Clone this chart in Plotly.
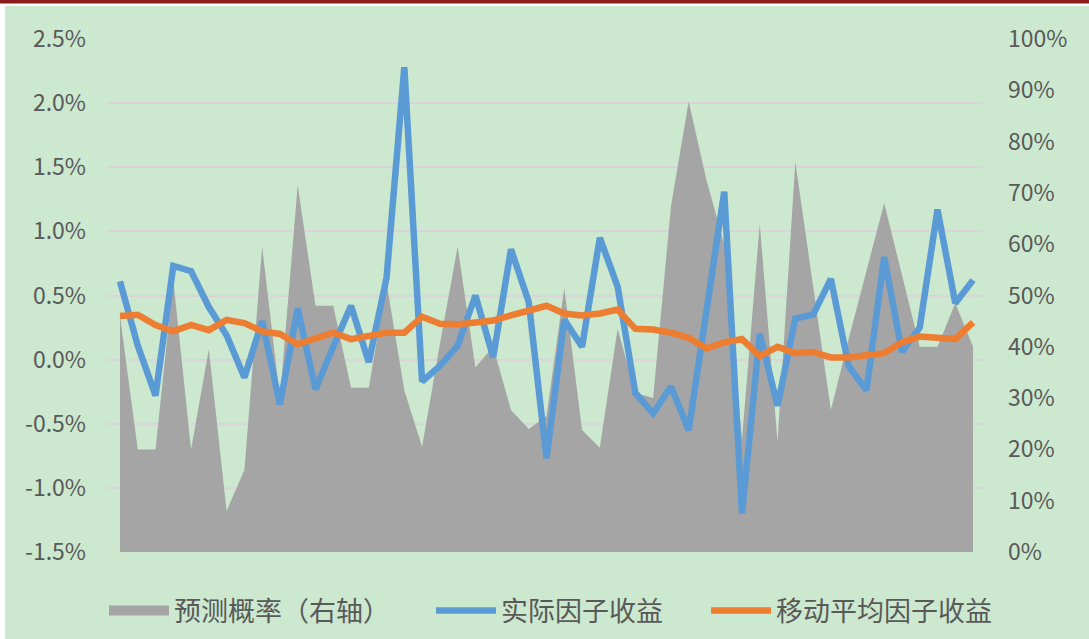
import plotly.graph_objects as go

# ---- data ----
periods = list(range(49))

prob_pct = [46, 20, 20, 53, 20, 39.5, 8, 16, 59.5, 30,
            71.5, 48, 48, 32, 32, 52.5, 31.5, 20.5, 40.5, 59.5,
            36, 40, 27.7, 24, 26.5, 51.4, 23.8, 20.3, 43.5, 31,
            30, 67.3, 87.8, 72.5, 60, 22, 64, 21.5, 76, 51.7,
            27.7, 41.5, 55, 68, 54, 40, 40, 48.5, 40]

actual_ret = [0.61, 0.11, -0.28, 0.73, 0.69, 0.41, 0.19, -0.14, 0.30, -0.35,
              0.40, -0.23, 0.10, 0.42, -0.02, 0.64, 2.28, -0.17, -0.05, 0.11,
              0.50, 0.02, 0.86, 0.45, -0.77, 0.31, 0.10, 0.95, 0.57, -0.26,
              -0.42, -0.21, -0.55, 0.37, 1.31, -1.20, 0.20, -0.36, 0.32, 0.35,
              0.63, -0.05, -0.24, 0.80, 0.06, 0.25, 1.17, 0.44, 0.62]

ma_ret = [0.34, 0.35, 0.27, 0.22, 0.27, 0.23, 0.31, 0.285, 0.22, 0.20,
          0.12, 0.16, 0.21, 0.16, 0.19, 0.21, 0.21, 0.335, 0.28, 0.275,
          0.29, 0.305, 0.345, 0.385, 0.42, 0.36, 0.345, 0.36, 0.39, 0.24,
          0.235, 0.21, 0.17, 0.088, 0.135, 0.16, 0.028, 0.10, 0.05, 0.06,
          0.017, 0.017, 0.035, 0.05, 0.135, 0.18, 0.17, 0.16, 0.29]

left_tick_vals = [-1.5, -1.0, -0.5, 0.0, 0.5, 1.0, 1.5, 2.0, 2.5]
left_tick_text = ["-1.5%", "-1.0%", "-0.5%", "0.0%", "0.5%", "1.0%", "1.5%", "2.0%", "2.5%"]
right_tick_vals = [0, 10, 20, 30, 40, 50, 60, 70, 80, 90, 100]
right_tick_text = ["0%", "10%", "20%", "30%", "40%", "50%", "60%", "70%", "80%", "90%", "100%"]

names = ["预测概率（右轴）", "实际因子收益", "移动平均因子收益"]

# ---- figure ----
W, H = 1089, 639
L, R, T, B = 107, 106, 39, 87
pw, ph = W - L - R, H - T - B

def px(xp):
    return (xp - L) / pw

def py(yp):
    return (H - B - yp) / ph

BG = "#CCE8CF"
TXT = "#595959"
FONT = "Noto Sans CJK SC"
GRAY = "#A5A5A5"

fig = go.Figure()
# area (right axis)
fig.add_trace(go.Scatter(
    x=periods, y=prob_pct, name=names[0], yaxis="y", legend="legend",
    mode="lines", line=dict(width=0, color=GRAY),
    fill="tozeroy", fillcolor=GRAY, showlegend=False, legendgroup="prob"))
# legend key for the area (solid block, like the reference)
fig.add_trace(go.Scatter(
    x=[None], y=[None], name=names[0], yaxis="y", legend="legend",
    mode="lines", line=dict(width=15, color=GRAY), legendgroup="prob",
    hoverinfo="skip"))
fig.add_trace(go.Scatter(
    x=periods, y=actual_ret, name=names[1], yaxis="y2", legend="legend2",
    mode="lines", line=dict(width=6.5, color="#5B9BD5")))
fig.add_trace(go.Scatter(
    x=periods, y=ma_ret, name=names[2], yaxis="y2", legend="legend3",
    mode="lines", line=dict(width=6.5, color="#ED7D31")))

legend_style = dict(orientation="h", xanchor="left", y=py(611), yanchor="middle",
                    font=dict(size=27, color=TXT, family=FONT), itemwidth=60,
                    bgcolor="rgba(0,0,0,0)")

fig.update_layout(
    width=W, height=H,
    margin=dict(l=L, r=R, t=T, b=B, pad=0, autoexpand=False),
    paper_bgcolor=BG, plot_bgcolor=BG,
    font=dict(family=FONT, color=TXT, size=23),
    xaxis=dict(range=[-0.73, 48.56], showticklabels=False, showgrid=False,
               zeroline=False, showline=False, ticks=""),
    yaxis=dict(range=[0, 100], side="right", tickvals=right_tick_vals,
               ticktext=right_tick_text, showgrid=False, zeroline=False,
               showline=False, ticks="", ticklabelstandoff=24,
               tickfont=dict(size=23, color=TXT, family=FONT)),
    yaxis2=dict(range=[-1.5, 2.5], side="left", overlaying="y",
                tickvals=left_tick_vals, ticktext=left_tick_text,
                showgrid=True, gridcolor="#D9D4D9", gridwidth=2,
                zeroline=False, showline=False, ticks="", ticklabelstandoff=20,
                tickfont=dict(size=23, color=TXT, family=FONT)),
    showlegend=True,
    legend=dict(x=px(104), **legend_style),
    legend2=dict(x=px(431), **legend_style),
    legend3=dict(x=px(706), **legend_style),
    shapes=[
        dict(type="rect", xref="paper", yref="paper", x0=px(0), x1=px(5), y0=py(H), y1=py(0),
             fillcolor="white", line=dict(width=0), layer="below"),
        dict(type="rect", xref="paper", yref="paper", x0=px(0), x1=px(W), y0=py(6), y1=py(0),
             fillcolor="white", line=dict(width=0), layer="below"),
        dict(type="rect", xref="paper", yref="paper", x0=px(0), x1=px(W), y0=py(3.5), y1=py(0),
             fillcolor="#8B1A1A", line=dict(width=0), layer="above"),
    ],
)

fig.write_html("out.html",
               config={"displayModeBar": False},
               post_script="document.body.style.margin='0';document.body.style.overflow='hidden';")
